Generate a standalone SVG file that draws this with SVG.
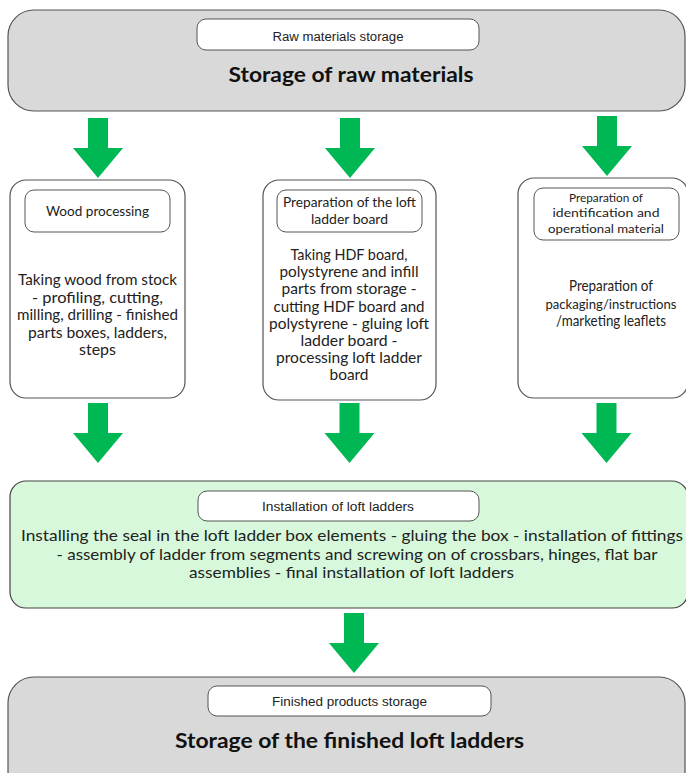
<svg xmlns="http://www.w3.org/2000/svg" width="686" height="773" viewBox="0 0 686 773">
  <style>
    .store { fill: #d9d9d9; stroke: #555; stroke-width: 1.2; }
    .proc { fill: #ffffff; stroke: #555; stroke-width: 1.2; }
    .install { fill: #d7f8da; stroke: #444; stroke-width: 1.2; }
    .tag { fill: #ffffff; stroke: #555; stroke-width: 1; }
    .cond { font-family: "Liberation Sans", Arial, sans-serif; font-size: 12.5px; fill: #222; text-anchor: middle; }
    .big { font-family: "Lato", "Liberation Sans", sans-serif; font-size: 21px; font-weight: 700; fill: #111; text-anchor: middle; }
    .body { font-family: "Lato", "Liberation Sans", sans-serif; font-size: 15px; fill: #222; text-anchor: middle; }
    .lbl { font-family: "Lato", "Liberation Sans", sans-serif; font-size: 13px; fill: #222; text-anchor: middle; }
    .lbls { font-family: "Lato", "Liberation Sans", sans-serif; font-size: 11.5px; fill: #222; text-anchor: middle; }
    .ibody { font-family: "Lato", "Liberation Sans", sans-serif; font-size: 16px; fill: #222; text-anchor: middle; }
    .arrow { fill: #00b853; }
  </style>
  <defs>
    <path id="arr" d="M -10 0 L 10 0 L 10 30 L 25 30 L 0 60 L -25 30 L -10 30 Z"/>
  </defs>

  <rect x="0" y="0" width="686" height="773" fill="#ffffff"/>

  <g id="raw-storage">
    <rect class="store" x="8" y="10" width="677" height="101" rx="26"/>
    <rect class="tag" x="197" y="19" width="282" height="31" rx="9"/>
    <text class="cond" x="338" y="41" textLength="131" lengthAdjust="spacingAndGlyphs">Raw materials storage</text>
    <text class="big" x="351" y="82" textLength="245" lengthAdjust="spacingAndGlyphs">Storage of raw materials</text>
  </g>

  <g id="wood-processing">
    <rect class="proc" x="10" y="180" width="175" height="218" rx="16"/>
    <rect class="tag" x="25" y="190" width="145" height="42" rx="9"/>
    <text class="lbl" x="97.5" y="216" textLength="103" lengthAdjust="spacingAndGlyphs">Wood processing</text>
    <text class="body" x="97.5" y="285" textLength="159" lengthAdjust="spacingAndGlyphs">Taking wood from stock</text>
    <text class="body" x="97.5" y="302.5" textLength="131" lengthAdjust="spacingAndGlyphs">- profiling, cutting,</text>
    <text class="body" x="97.5" y="320" textLength="161" lengthAdjust="spacingAndGlyphs">milling, drilling - finished</text>
    <text class="body" x="97.5" y="337.5" textLength="139" lengthAdjust="spacingAndGlyphs">parts boxes, ladders,</text>
    <text class="body" x="97.5" y="355" textLength="37" lengthAdjust="spacingAndGlyphs">steps</text>
  </g>

  <g id="board-preparation">
    <rect class="proc" x="263" y="180" width="173" height="220" rx="16"/>
    <rect class="tag" x="277" y="190" width="145" height="42" rx="9"/>
    <text class="lbl" x="349.5" y="207" textLength="133" lengthAdjust="spacingAndGlyphs">Preparation of the loft</text>
    <text class="lbl" x="349.5" y="224" textLength="77" lengthAdjust="spacingAndGlyphs">ladder board</text>
    <text class="body" x="349" y="260" textLength="117" lengthAdjust="spacingAndGlyphs">Taking HDF board,</text>
    <text class="body" x="349" y="277" textLength="139" lengthAdjust="spacingAndGlyphs">polystyrene and infill</text>
    <text class="body" x="349" y="294" textLength="135" lengthAdjust="spacingAndGlyphs">parts from storage -</text>
    <text class="body" x="349" y="311.5" textLength="151" lengthAdjust="spacingAndGlyphs">cutting HDF board and</text>
    <text class="body" x="349" y="328.5" textLength="160" lengthAdjust="spacingAndGlyphs">polystyrene - gluing loft</text>
    <text class="body" x="349" y="345.5" textLength="97" lengthAdjust="spacingAndGlyphs">ladder board -</text>
    <text class="body" x="349" y="362.5" textLength="146" lengthAdjust="spacingAndGlyphs">processing loft ladder</text>
    <text class="body" x="349" y="380" textLength="39" lengthAdjust="spacingAndGlyphs">board</text>
  </g>

  <g id="identification-material">
    <rect class="proc" x="518" y="178" width="170" height="220" rx="16"/>
    <rect class="tag" x="534" y="188" width="145" height="52" rx="9"/>
    <text class="lbls" x="606" y="202" textLength="74" lengthAdjust="spacingAndGlyphs">Preparation of</text>
    <text class="lbls" x="606" y="217" textLength="107" lengthAdjust="spacingAndGlyphs">identification and</text>
    <text class="lbls" x="606" y="233" textLength="116" lengthAdjust="spacingAndGlyphs">operational material</text>
    <text class="body" x="611" y="291" textLength="84" lengthAdjust="spacingAndGlyphs">Preparation of</text>
    <text class="body" x="611" y="308.5" style="font-size:14px" textLength="131" lengthAdjust="spacingAndGlyphs">packaging/instructions</text>
    <text class="body" x="611" y="326" textLength="110" lengthAdjust="spacingAndGlyphs">/marketing leaflets</text>
  </g>

  <g id="installation">
    <rect class="install" x="10" y="481" width="678" height="127" rx="16"/>
    <rect class="tag" x="198" y="491" width="281" height="30" rx="9"/>
    <text class="cond" x="338" y="511" textLength="152" lengthAdjust="spacingAndGlyphs">Installation of loft ladders</text>
    <text class="ibody" x="352" y="541" textLength="662" lengthAdjust="spacingAndGlyphs">Installing the seal in the loft ladder box elements - gluing the box -  installation of fittings</text>
    <text class="ibody" x="357" y="559.5" textLength="601" lengthAdjust="spacingAndGlyphs">- assembly of ladder from segments and screwing on of crossbars, hinges, flat bar</text>
    <text class="ibody" x="351.5" y="578" textLength="325" lengthAdjust="spacingAndGlyphs">assemblies - final installation of loft ladders</text>
  </g>

  <g id="finished-storage">
    <rect class="store" x="8" y="677" width="677" height="120" rx="26"/>
    <rect class="tag" x="208" y="686" width="283" height="30" rx="9"/>
    <text class="cond" x="349.5" y="706" textLength="155" lengthAdjust="spacingAndGlyphs">Finished products storage</text>
    <text class="big" x="349.5" y="748" textLength="349" lengthAdjust="spacingAndGlyphs">Storage of the finished loft ladders</text>
  </g>

  <g id="connectors" class="arrow">
    <use href="#arr" x="98" y="118"/>
    <use href="#arr" x="350" y="118"/>
    <use href="#arr" x="607" y="116"/>
    <use href="#arr" x="98" y="403"/>
    <use href="#arr" x="349.5" y="403"/>
    <use href="#arr" x="606.5" y="403"/>
    <use href="#arr" x="354" y="613"/>
  </g>
</svg>
